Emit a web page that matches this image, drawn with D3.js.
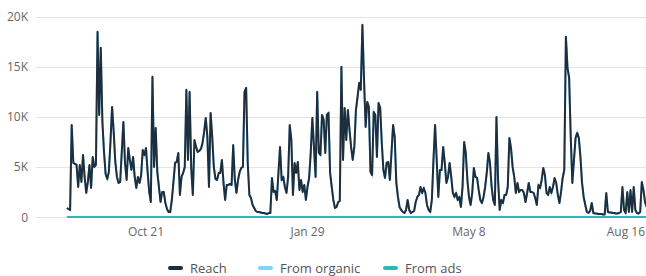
<!DOCTYPE html>
<html>
<head>
<meta charset="utf-8">
<script src="https://cdn.jsdelivr.net/npm/d3@7"></script>
<style>
  html, body { margin: 0; padding: 0; background: #fff; }
  svg { display: block; font-family: "Open Sans", "Noto Sans", sans-serif; }
</style>
</head>
<body>
<svg id="chart" width="646" height="276"></svg>
<script>
// daily reach, in thousands, starting 2 Sep 2023
var startDate = new Date(2023, 8, 2);
var reachThousands = [
  0.9, 0.8, 0.7, 9.2, 5.4, 5.3, 5.2, 3.0, 5.2, 3.5, 6.2, 4.0, 2.4, 3.5, 5.2, 2.9, 6.0, 5.0, 5.2, 18.5,
  10.2, 16.9, 9.5, 6.5, 4.3, 3.8, 4.5, 7.5, 11.0, 8.5, 5.5, 4.0, 3.4, 3.5, 6.5, 9.5, 5.4, 3.7, 6.9, 5.7,
  4.7, 6.0, 4.0, 2.9, 4.0, 3.4, 4.2, 6.7, 6.2, 6.9, 4.5, 2.5, 1.5, 14.0, 5.0, 8.9, 4.5, 3.0, 1.5, 2.5,
  2.5, 1.4, 0.8, 0.5, 0.5, 1.7, 3.5, 5.4, 5.5, 6.4, 2.2, 4.0, 4.4, 5.0, 12.7, 5.7, 12.5, 4.9, 2.2, 7.7,
  7.0, 6.5, 6.6, 6.8, 7.4, 8.5, 9.9, 8.0, 3.0, 10.4, 8.0, 5.0, 3.8, 3.7, 4.4, 4.4, 5.7, 3.4, 1.7, 3.2,
  3.2, 3.3, 3.2, 7.2, 3.7, 2.4, 3.7, 4.5, 4.9, 5.0, 12.5, 12.9, 5.4, 2.2, 1.9, 1.2, 0.9, 0.6, 0.5, 0.5,
  0.45, 0.4, 0.4, 0.35, 0.3, 0.4, 0.4, 3.9, 2.5, 2.6, 1.7, 4.4, 7.0, 3.7, 4.0, 3.0, 2.4, 4.0, 9.2, 7.7,
  2.2, 5.4, 4.4, 5.5, 2.7, 3.7, 2.5, 3.2, 1.7, 3.0, 3.9, 6.4, 9.9, 7.0, 4.0, 12.5, 6.4, 6.2, 10.2, 9.7,
  6.4, 10.2, 10.4, 4.4, 3.0, 1.7, 0.9, 1.0, 1.5, 1.6, 15.0, 5.7, 10.9, 7.7, 10.7, 8.7, 7.0, 5.7, 7.0, 10.7,
  12.0, 13.4, 12.7, 19.2, 13.7, 9.0, 11.5, 11.0, 4.5, 4.2, 10.5, 10.2, 6.0, 11.4, 10.9, 7.4, 4.7, 3.9, 5.4, 5.5,
  3.7, 6.4, 9.2, 8.0, 3.4, 2.0, 1.0, 0.7, 0.5, 0.4, 0.7, 1.7, 0.7, 0.4, 0.5, 0.6, 1.5, 2.0, 2.2, 3.0,
  2.4, 2.9, 2.4, 1.2, 0.7, 0.5, 1.7, 5.7, 9.2, 5.7, 2.0, 4.7, 4.7, 7.0, 5.4, 3.4, 4.0, 5.4, 4.0, 2.4,
  2.0, 2.4, 1.7, 2.0, 1.0, 3.0, 7.5, 6.4, 3.7, 2.0, 1.2, 2.4, 4.9, 4.0, 3.9, 2.7, 1.7, 1.4, 2.0, 3.0,
  4.4, 6.4, 5.4, 3.0, 1.7, 1.2, 10.0, 3.7, 0.7, 1.7, 1.4, 2.2, 2.2, 3.0, 7.9, 6.9, 5.0, 4.0, 2.4, 3.4,
  2.5, 2.7, 2.7, 2.4, 1.5, 2.4, 3.4, 2.5, 2.5, 2.4, 1.9, 1.2, 3.2, 2.9, 3.7, 4.9, 4.2, 2.4, 2.2, 3.0,
  2.4, 3.0, 3.9, 3.4, 2.2, 1.4, 2.5, 3.9, 4.7, 18.0, 14.9, 13.9, 8.0, 3.4, 5.7, 7.9, 8.4, 7.9, 6.0, 3.4,
  2.0, 1.2, 0.5, 0.4, 0.6, 1.4, 0.4, 0.35, 0.35, 0.3, 0.3, 0.3, 0.25, 0.25, 2.4, 0.5, 0.45, 0.45, 0.4, 0.4,
  0.35, 0.35, 0.4, 0.5, 3.0, 0.7, 0.4, 2.5, 0.5, 2.7, 0.5, 3.0, 0.7, 0.4, 0.35, 0.5, 3.5, 2.7, 1.5, 1.0
];
// no paid reach in this period: organic carries all of it, ads stay at zero
var organicThousands = reachThousands.slice();
var adsThousands = reachThousands.map(function () { return 0; });

var yTicks = [0, 5, 10, 15, 20];
var xTicks = [new Date(2023, 9, 21), new Date(2024, 0, 29), new Date(2024, 4, 8), new Date(2024, 7, 16)];
var seriesNames = ["Reach", "From organic", "From ads"];
var seriesColors = ["#1f2e3c", "#86d3f7", "#2bb9b6"];

var width = 646, height = 276;
var svg = d3.select("#chart");

var x = d3.scaleTime()
  .domain([xTicks[0], xTicks[3]])
  .range([146, 630.5]);
var y = d3.scaleLinear()
  .domain([0, 20])
  .range([217, 16.8]);

var dates = reachThousands.map(function (v, i) { return d3.timeDay.offset(startDate, i); });

// gridlines
svg.append("g")
  .selectAll("line")
  .data(yTicks)
  .enter()
  .append("line")
  .attr("x1", 36)
  .attr("x2", width)
  .attr("y1", function (d) { return Math.round(y(d)) + 0.5; })
  .attr("y2", function (d) { return Math.round(y(d)) + 0.5; })
  .attr("stroke", "#e4e4e4")
  .attr("stroke-width", 1);

// y labels
svg.append("g")
  .selectAll("text")
  .data(yTicks)
  .enter()
  .append("text")
  .attr("x", 28)
  .attr("y", function (d) { return y(d) + 4.5; })
  .attr("text-anchor", "end")
  .attr("font-size", 12)
  .attr("fill", "#666")
  .text(function (d) { return d === 0 ? "0" : d + "K"; });

// x labels
var fmt = d3.timeFormat("%b %-d");
var xl = svg.append("g")
  .selectAll("text")
  .data(xTicks)
  .enter()
  .append("text")
  .attr("x", function (d) { return x(d); })
  .attr("y", 236)
  .attr("text-anchor", "middle")
  .attr("font-size", 12)
  .attr("fill", "#666")
  .text(function (d) { return fmt(d); });
// keep the last label inside the frame
xl.each(function (d) {
  var w = this.getComputedTextLength();
  if (x(d) + w / 2 > width - 1) {
    d3.select(this).attr("text-anchor", "end").attr("x", width - 1);
  }
});

function lineFor(values) {
  return d3.line()
    .x(function (v, i) { return x(dates[i]); })
    .y(function (v) { return y(v); })(values);
}

var lines = svg.append("g");
lines.append("path")
  .attr("d", lineFor(organicThousands))
  .attr("fill", "none")
  .attr("stroke", seriesColors[1])
  .attr("stroke-width", 2);
lines.append("path")
  .attr("d", lineFor(reachThousands))
  .attr("fill", "none")
  .attr("stroke", seriesColors[0])
  .attr("stroke-width", 2)
  .attr("stroke-linejoin", "round");
lines.append("path")
  .attr("d", lineFor(adsThousands))
  .attr("fill", "none")
  .attr("stroke", seriesColors[2])
  .attr("stroke-width", 2);

// legend
var legendX = [168, 258, 383];
var lg = svg.append("g")
  .selectAll("g")
  .data(seriesNames)
  .enter()
  .append("g")
  .attr("transform", function (d, i) { return "translate(" + legendX[i] + ",268)"; });
lg.append("line")
  .attr("x1", 2)
  .attr("x2", 13)
  .attr("y1", 0)
  .attr("y2", 0)
  .attr("stroke", function (d, i) { return seriesColors[i]; })
  .attr("stroke-width", 4)
  .attr("stroke-linecap", "round");
lg.append("text")
  .attr("x", 22)
  .attr("y", 4.5)
  .attr("font-size", 13)
  .attr("fill", "#555")
  .text(function (d) { return d; });
</script>
</body>
</html>
